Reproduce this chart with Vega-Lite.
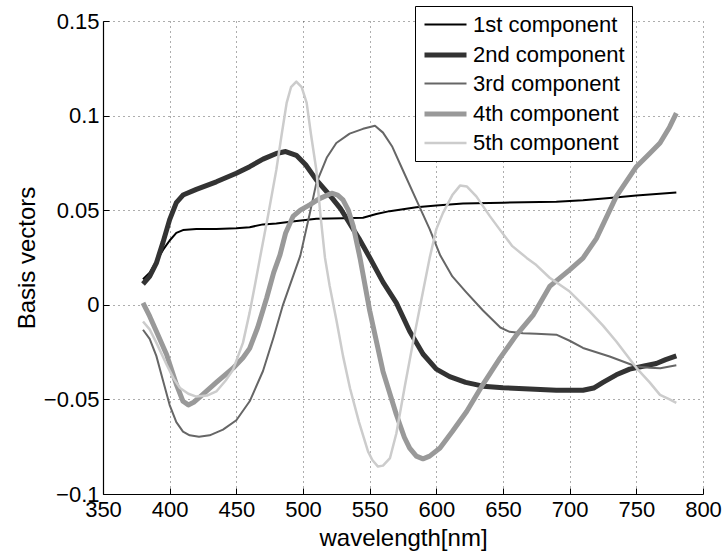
{
  "$schema": "https://vega.github.io/schema/vega-lite/v6.json",
  "width": 600,
  "height": 473,
  "autosize": {"type": "none"},
  "padding": {"left": 103, "top": 21, "right": 20, "bottom": 63},
  "background": "white",
  "config": {
    "font": "Liberation Sans",
    "view": {"stroke": null},
    "axis": {
      "labelFont": "Liberation Sans",
      "titleFont": "Liberation Sans",
      "labelFontSize": 22,
      "titleFontSize": 24,
      "titleFontWeight": "normal",
      "labelColor": "black",
      "titleColor": "black",
      "domainColor": "black",
      "domainWidth": 1.2,
      "tickColor": "black",
      "tickSize": -6,
      "gridColor": "#333333",
      "gridDash": [1, 4],
      "gridWidth": 1,
      "gridOpacity": 0.8
    },
    "legend": {
      "labelFont": "Liberation Sans",
      "labelFontSize": 22,
      "labelColor": "black"
    }
  },
  "datasets": {
    "curves": [
      {"c": "1st component", "w": 380, "v": 0.0135},
      {"c": "1st component", "w": 385, "v": 0.017},
      {"c": "1st component", "w": 390, "v": 0.023},
      {"c": "1st component", "w": 395, "v": 0.029},
      {"c": "1st component", "w": 400, "v": 0.034},
      {"c": "1st component", "w": 405, "v": 0.038},
      {"c": "1st component", "w": 410, "v": 0.0395},
      {"c": "1st component", "w": 420, "v": 0.040},
      {"c": "1st component", "w": 435, "v": 0.040},
      {"c": "1st component", "w": 450, "v": 0.0405},
      {"c": "1st component", "w": 460, "v": 0.041},
      {"c": "1st component", "w": 470, "v": 0.0425},
      {"c": "1st component", "w": 480, "v": 0.043},
      {"c": "1st component", "w": 492, "v": 0.044},
      {"c": "1st component", "w": 510, "v": 0.0455},
      {"c": "1st component", "w": 530, "v": 0.0458},
      {"c": "1st component", "w": 545, "v": 0.046},
      {"c": "1st component", "w": 555, "v": 0.048},
      {"c": "1st component", "w": 565, "v": 0.0495},
      {"c": "1st component", "w": 575, "v": 0.0505},
      {"c": "1st component", "w": 585, "v": 0.0515},
      {"c": "1st component", "w": 600, "v": 0.0525},
      {"c": "1st component", "w": 620, "v": 0.0535},
      {"c": "1st component", "w": 650, "v": 0.054},
      {"c": "1st component", "w": 690, "v": 0.0545},
      {"c": "1st component", "w": 710, "v": 0.0553},
      {"c": "1st component", "w": 730, "v": 0.0565},
      {"c": "1st component", "w": 750, "v": 0.0578},
      {"c": "1st component", "w": 765, "v": 0.0585},
      {"c": "1st component", "w": 780, "v": 0.0594},

      {"c": "2nd component", "w": 380, "v": 0.011},
      {"c": "2nd component", "w": 385, "v": 0.015},
      {"c": "2nd component", "w": 390, "v": 0.022},
      {"c": "2nd component", "w": 395, "v": 0.033},
      {"c": "2nd component", "w": 400, "v": 0.045},
      {"c": "2nd component", "w": 405, "v": 0.054},
      {"c": "2nd component", "w": 410, "v": 0.058},
      {"c": "2nd component", "w": 420, "v": 0.061},
      {"c": "2nd component", "w": 435, "v": 0.065},
      {"c": "2nd component", "w": 450, "v": 0.0695},
      {"c": "2nd component", "w": 460, "v": 0.073},
      {"c": "2nd component", "w": 470, "v": 0.077},
      {"c": "2nd component", "w": 480, "v": 0.080},
      {"c": "2nd component", "w": 487, "v": 0.081},
      {"c": "2nd component", "w": 495, "v": 0.079},
      {"c": "2nd component", "w": 502, "v": 0.074},
      {"c": "2nd component", "w": 510, "v": 0.066},
      {"c": "2nd component", "w": 520, "v": 0.058},
      {"c": "2nd component", "w": 528, "v": 0.051},
      {"c": "2nd component", "w": 535, "v": 0.043},
      {"c": "2nd component", "w": 542, "v": 0.035},
      {"c": "2nd component", "w": 550, "v": 0.025},
      {"c": "2nd component", "w": 560, "v": 0.012},
      {"c": "2nd component", "w": 570, "v": 0.001},
      {"c": "2nd component", "w": 580, "v": -0.014},
      {"c": "2nd component", "w": 590, "v": -0.026},
      {"c": "2nd component", "w": 600, "v": -0.034},
      {"c": "2nd component", "w": 610, "v": -0.038},
      {"c": "2nd component", "w": 622, "v": -0.041},
      {"c": "2nd component", "w": 635, "v": -0.043},
      {"c": "2nd component", "w": 650, "v": -0.0438},
      {"c": "2nd component", "w": 670, "v": -0.0445},
      {"c": "2nd component", "w": 690, "v": -0.0452},
      {"c": "2nd component", "w": 710, "v": -0.0452},
      {"c": "2nd component", "w": 718, "v": -0.044},
      {"c": "2nd component", "w": 725, "v": -0.041},
      {"c": "2nd component", "w": 735, "v": -0.037},
      {"c": "2nd component", "w": 745, "v": -0.034},
      {"c": "2nd component", "w": 755, "v": -0.0325},
      {"c": "2nd component", "w": 765, "v": -0.031},
      {"c": "2nd component", "w": 772, "v": -0.029},
      {"c": "2nd component", "w": 780, "v": -0.027},

      {"c": "3rd component", "w": 380, "v": -0.0132},
      {"c": "3rd component", "w": 385, "v": -0.018},
      {"c": "3rd component", "w": 390, "v": -0.027},
      {"c": "3rd component", "w": 395, "v": -0.040},
      {"c": "3rd component", "w": 400, "v": -0.053},
      {"c": "3rd component", "w": 405, "v": -0.062},
      {"c": "3rd component", "w": 410, "v": -0.067},
      {"c": "3rd component", "w": 415, "v": -0.069},
      {"c": "3rd component", "w": 422, "v": -0.0698},
      {"c": "3rd component", "w": 430, "v": -0.069},
      {"c": "3rd component", "w": 440, "v": -0.066},
      {"c": "3rd component", "w": 450, "v": -0.061},
      {"c": "3rd component", "w": 460, "v": -0.051},
      {"c": "3rd component", "w": 470, "v": -0.035},
      {"c": "3rd component", "w": 478, "v": -0.017},
      {"c": "3rd component", "w": 485, "v": 0.000},
      {"c": "3rd component", "w": 490, "v": 0.010},
      {"c": "3rd component", "w": 498, "v": 0.026},
      {"c": "3rd component", "w": 505, "v": 0.048},
      {"c": "3rd component", "w": 510, "v": 0.0643},
      {"c": "3rd component", "w": 518, "v": 0.078},
      {"c": "3rd component", "w": 525, "v": 0.0855},
      {"c": "3rd component", "w": 535, "v": 0.0905},
      {"c": "3rd component", "w": 545, "v": 0.093},
      {"c": "3rd component", "w": 554, "v": 0.0946},
      {"c": "3rd component", "w": 560, "v": 0.091},
      {"c": "3rd component", "w": 567, "v": 0.0835},
      {"c": "3rd component", "w": 575, "v": 0.071},
      {"c": "3rd component", "w": 585, "v": 0.0555},
      {"c": "3rd component", "w": 595, "v": 0.040},
      {"c": "3rd component", "w": 603, "v": 0.026},
      {"c": "3rd component", "w": 612, "v": 0.015},
      {"c": "3rd component", "w": 622, "v": 0.007},
      {"c": "3rd component", "w": 635, "v": -0.003},
      {"c": "3rd component", "w": 648, "v": -0.012},
      {"c": "3rd component", "w": 655, "v": -0.0143},
      {"c": "3rd component", "w": 665, "v": -0.015},
      {"c": "3rd component", "w": 675, "v": -0.0153},
      {"c": "3rd component", "w": 690, "v": -0.0158},
      {"c": "3rd component", "w": 700, "v": -0.019},
      {"c": "3rd component", "w": 710, "v": -0.0228},
      {"c": "3rd component", "w": 730, "v": -0.0273},
      {"c": "3rd component", "w": 750, "v": -0.0326},
      {"c": "3rd component", "w": 760, "v": -0.0333},
      {"c": "3rd component", "w": 768, "v": -0.0335},
      {"c": "3rd component", "w": 780, "v": -0.032},

      {"c": "4th component", "w": 380, "v": 0.001},
      {"c": "4th component", "w": 385, "v": -0.006},
      {"c": "4th component", "w": 390, "v": -0.014},
      {"c": "4th component", "w": 397.75, "v": -0.0264},
      {"c": "4th component", "w": 405, "v": -0.042},
      {"c": "4th component", "w": 410, "v": -0.051},
      {"c": "4th component", "w": 414, "v": -0.0529},
      {"c": "4th component", "w": 418, "v": -0.0515},
      {"c": "4th component", "w": 423, "v": -0.0485},
      {"c": "4th component", "w": 435, "v": -0.041},
      {"c": "4th component", "w": 447.5, "v": -0.0335},
      {"c": "4th component", "w": 455, "v": -0.028},
      {"c": "4th component", "w": 460, "v": -0.023},
      {"c": "4th component", "w": 466, "v": -0.012},
      {"c": "4th component", "w": 472.75, "v": 0.0036},
      {"c": "4th component", "w": 478, "v": 0.017},
      {"c": "4th component", "w": 482.75, "v": 0.0264},
      {"c": "4th component", "w": 487, "v": 0.038},
      {"c": "4th component", "w": 492.5, "v": 0.0467},
      {"c": "4th component", "w": 498, "v": 0.050},
      {"c": "4th component", "w": 505, "v": 0.0528},
      {"c": "4th component", "w": 512, "v": 0.056},
      {"c": "4th component", "w": 521.5, "v": 0.059},
      {"c": "4th component", "w": 526, "v": 0.058},
      {"c": "4th component", "w": 530, "v": 0.0555},
      {"c": "4th component", "w": 534, "v": 0.050},
      {"c": "4th component", "w": 537.75, "v": 0.0414},
      {"c": "4th component", "w": 542.75, "v": 0.0248},
      {"c": "4th component", "w": 550, "v": -0.003},
      {"c": "4th component", "w": 560, "v": -0.0352},
      {"c": "4th component", "w": 570, "v": -0.058},
      {"c": "4th component", "w": 576, "v": -0.070},
      {"c": "4th component", "w": 580, "v": -0.0758},
      {"c": "4th component", "w": 585, "v": -0.080},
      {"c": "4th component", "w": 590, "v": -0.0814},
      {"c": "4th component", "w": 595, "v": -0.080},
      {"c": "4th component", "w": 602.75, "v": -0.0757},
      {"c": "4th component", "w": 612, "v": -0.067},
      {"c": "4th component", "w": 622.75, "v": -0.0564},
      {"c": "4th component", "w": 635, "v": -0.042},
      {"c": "4th component", "w": 647.75, "v": -0.0282},
      {"c": "4th component", "w": 660, "v": -0.016},
      {"c": "4th component", "w": 672.75, "v": -0.0053},
      {"c": "4th component", "w": 685, "v": 0.0097},
      {"c": "4th component", "w": 700, "v": 0.0185},
      {"c": "4th component", "w": 710, "v": 0.0247},
      {"c": "4th component", "w": 720, "v": 0.035},
      {"c": "4th component", "w": 735, "v": 0.0573},
      {"c": "4th component", "w": 750, "v": 0.073},
      {"c": "4th component", "w": 760, "v": 0.080},
      {"c": "4th component", "w": 767.75, "v": 0.0855},
      {"c": "4th component", "w": 775, "v": 0.094},
      {"c": "4th component", "w": 780, "v": 0.1013},

      {"c": "5th component", "w": 380, "v": -0.0088},
      {"c": "5th component", "w": 385, "v": -0.013},
      {"c": "5th component", "w": 390, "v": -0.020},
      {"c": "5th component", "w": 397.75, "v": -0.0317},
      {"c": "5th component", "w": 403, "v": -0.039},
      {"c": "5th component", "w": 407.75, "v": -0.044},
      {"c": "5th component", "w": 414, "v": -0.047},
      {"c": "5th component", "w": 420, "v": -0.0485},
      {"c": "5th component", "w": 428, "v": -0.048},
      {"c": "5th component", "w": 435, "v": -0.0458},
      {"c": "5th component", "w": 442, "v": -0.040},
      {"c": "5th component", "w": 447.5, "v": -0.0344},
      {"c": "5th component", "w": 455, "v": -0.020},
      {"c": "5th component", "w": 460, "v": -0.004},
      {"c": "5th component", "w": 464, "v": 0.0106},
      {"c": "5th component", "w": 467.75, "v": 0.0248},
      {"c": "5th component", "w": 474, "v": 0.048},
      {"c": "5th component", "w": 480, "v": 0.0713},
      {"c": "5th component", "w": 484, "v": 0.090},
      {"c": "5th component", "w": 487.75, "v": 0.1067},
      {"c": "5th component", "w": 491, "v": 0.115},
      {"c": "5th component", "w": 495, "v": 0.118},
      {"c": "5th component", "w": 499, "v": 0.115},
      {"c": "5th component", "w": 502.75, "v": 0.1067},
      {"c": "5th component", "w": 506, "v": 0.090},
      {"c": "5th component", "w": 510, "v": 0.0713},
      {"c": "5th component", "w": 513, "v": 0.048},
      {"c": "5th component", "w": 516.5, "v": 0.0248},
      {"c": "5th component", "w": 520, "v": 0.010},
      {"c": "5th component", "w": 525.25, "v": -0.0088},
      {"c": "5th component", "w": 530, "v": -0.027},
      {"c": "5th component", "w": 535.25, "v": -0.0441},
      {"c": "5th component", "w": 542, "v": -0.062},
      {"c": "5th component", "w": 548.75, "v": -0.0775},
      {"c": "5th component", "w": 552, "v": -0.082},
      {"c": "5th component", "w": 556.25, "v": -0.0855},
      {"c": "5th component", "w": 560, "v": -0.085},
      {"c": "5th component", "w": 565.25, "v": -0.081},
      {"c": "5th component", "w": 570, "v": -0.068},
      {"c": "5th component", "w": 576.5, "v": -0.0425},
      {"c": "5th component", "w": 583, "v": -0.018},
      {"c": "5th component", "w": 590, "v": 0.007},
      {"c": "5th component", "w": 595, "v": 0.0248},
      {"c": "5th component", "w": 600, "v": 0.040},
      {"c": "5th component", "w": 605, "v": 0.0486},
      {"c": "5th component", "w": 612, "v": 0.058},
      {"c": "5th component", "w": 617.75, "v": 0.063},
      {"c": "5th component", "w": 623, "v": 0.0625},
      {"c": "5th component", "w": 630, "v": 0.0573},
      {"c": "5th component", "w": 640, "v": 0.047},
      {"c": "5th component", "w": 647.75, "v": 0.0396},
      {"c": "5th component", "w": 657, "v": 0.031},
      {"c": "5th component", "w": 667.75, "v": 0.0248},
      {"c": "5th component", "w": 675, "v": 0.021},
      {"c": "5th component", "w": 685, "v": 0.0143},
      {"c": "5th component", "w": 700, "v": 0.007},
      {"c": "5th component", "w": 715, "v": -0.0035},
      {"c": "5th component", "w": 725, "v": -0.011},
      {"c": "5th component", "w": 735, "v": -0.0194},
      {"c": "5th component", "w": 750, "v": -0.0333},
      {"c": "5th component", "w": 760, "v": -0.041},
      {"c": "5th component", "w": 767.75, "v": -0.0476},
      {"c": "5th component", "w": 775, "v": -0.050},
      {"c": "5th component", "w": 780, "v": -0.0518}
    ]
  },
  "data": {"name": "curves"},
  "mark": {"type": "line", "strokeCap": "butt", "strokeJoin": "round", "clip": true},
  "encoding": {
    "x": {
      "field": "w",
      "type": "quantitative",
      "title": "wavelength[nm]",
      "scale": {"domain": [350, 800], "nice": false, "zero": false},
      "axis": {
        "values": [350, 400, 450, 500, 550, 600, 650, 700, 750, 800],
        "format": "d",
        "labelPadding": 11,
        "titlePadding": 6,
        "labelFlush": false,
        "labelOverlap": false
      }
    },
    "y": {
      "field": "v",
      "type": "quantitative",
      "title": "Basis vectors",
      "scale": {"domain": [-0.1, 0.15], "nice": false, "zero": false},
      "axis": {
        "values": [-0.1, -0.05, 0, 0.05, 0.1, 0.15],
        "format": ".2~f",
        "labelPadding": 10,
        "titlePadding": 4,
        "labelFlush": false,
        "labelOverlap": false
      }
    },
    "color": {
      "field": "c",
      "type": "nominal",
      "scale": {
        "domain": ["1st component", "2nd component", "3rd component", "4th component", "5th component"],
        "range": ["#000000", "#333333", "#666666", "#999999", "#cccccc"]
      },
      "legend": {
        "title": null,
        "orient": "none",
        "legendX": 312,
        "legendY": -15,
        "strokeColor": "black",
        "fillColor": "white",
        "padding": 7,
        "symbolType": "M-1,0L3,0",
        "symbolSize": 441,
        "rowPadding": 6,
        "labelOffset": 25
      }
    },
    "strokeWidth": {
      "field": "c",
      "type": "nominal",
      "scale": {
        "type": "ordinal",
        "domain": ["1st component", "2nd component", "3rd component", "4th component", "5th component"],
        "range": [2, 5, 2, 5, 2.5]
      },
      "legend": {
        "title": null,
        "orient": "none",
        "legendX": 312,
        "legendY": -15,
        "strokeColor": "black",
        "fillColor": "white",
        "padding": 7,
        "symbolType": "M-1,0L3,0",
        "symbolSize": 441,
        "rowPadding": 6,
        "labelOffset": 25
      }
    }
  }
}
